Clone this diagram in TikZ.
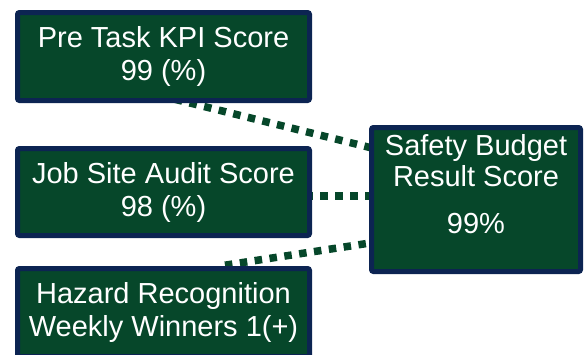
\documentclass[tikz,border=0pt]{standalone}
\usepackage{fontspec}
\setmainfont{Liberation Sans}
\usetikzlibrary{calc}
\definecolor{boxgreen}{RGB}{6,71,42}
\definecolor{boxnavy}{RGB}{12,36,82}
\tikzset{
  kpibox/.style={draw=boxnavy, fill=boxgreen, line width=5pt, rounded corners=2pt,
    minimum width=292pt, minimum height=87pt, inner sep=0pt, text=white,
    align=center, font=\fontsize{29}{33}\selectfont},
  txt/.style={text=white, align=center, inner sep=0pt, font=\fontsize{29}{31}\selectfont},
  link/.style={draw=boxgreen, line width=7.5pt, dash pattern=on 7.5pt off 7.5pt}
}
\begin{document}
\begin{tikzpicture}[x=1pt,y=-1pt]
\useasboundingbox (0,0) rectangle (585,354);
% connectors (behind boxes)
\coordinate (l1s) at (175,99.3);
\coordinate (l1e) at (372,148);
\coordinate (l2s) at (305,196);
\coordinate (l2e) at (375,196);
\coordinate (l3s) at (225,265.2);
\coordinate (l3e) at (372,242.7);
\draw[link] (l1s) -- (l1e);
\draw[link] (l2s) -- (l2e);
\draw[link] (l3s) -- (l3e);
% boxes
\node[kpibox, minimum height=88pt] (pre) at (163.5,56.5) {Pre Task KPI Score\\99 (\%)};
\node[kpibox] (job) at (163.5,192) {Job Site Audit Score\\98 (\%)};
\node[kpibox, minimum height=88pt] (haz) at (163.5,312.5) {Hazard Recognition\\Weekly Winners 1(+)};
\node[kpibox, minimum width=209pt, minimum height=144pt] (safety) at (476,199.5) {};
\node[txt, anchor=north] (st) at (476,134) {Safety Budget\\Result Score\\[16pt]99\%};
\end{tikzpicture}
\end{document}
